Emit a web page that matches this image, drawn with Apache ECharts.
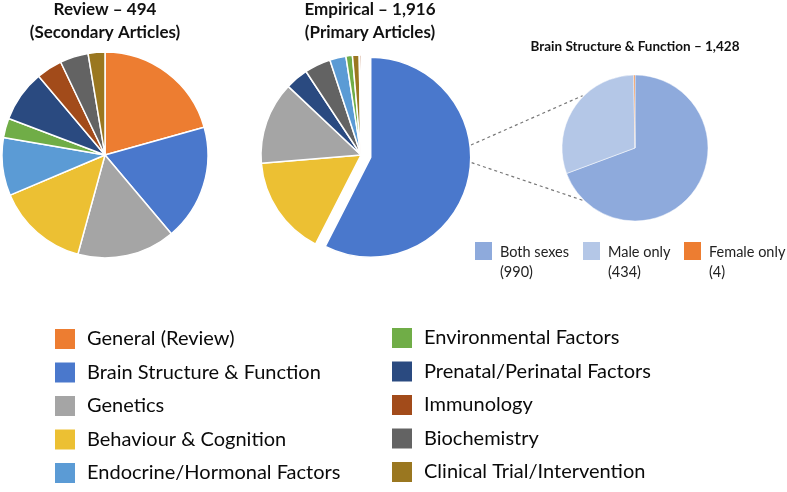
<!DOCTYPE html>
<html><head><meta charset="utf-8">
<script src="https://cdn.jsdelivr.net/npm/echarts@6/dist/echarts.min.js"></script>
<style>html,body{margin:0;padding:0;background:#fff}#c{width:787px;height:492px}</style>
</head><body><div id="c"></div>
<script>
// ---- data ----
const categories = ['General (Review)','Brain Structure & Function','Genetics','Behaviour & Cognition','Endocrine/Hormonal Factors','Environmental Factors','Prenatal/Perinatal Factors','Immunology','Biochemistry','Clinical Trial/Intervention'];
const categoryColors = ['#ed7d31','#4a78cc','#a5a5a5','#ecc033','#5b9bd5','#70ad47','#2a4a80','#a24b1a','#636363','#9a7720'];
const reviewCategories = ['General (Review)','Brain Structure & Function','Genetics','Behaviour & Cognition','Endocrine/Hormonal Factors','Environmental Factors','Prenatal/Perinatal Factors','Immunology','Biochemistry','Clinical Trial/Intervention'];
const reviewValues = [102,90,76,71,45,15,40,20,22,13];
const empiricalCategories = ['Brain Structure & Function','Behaviour & Cognition','Genetics','Prenatal/Perinatal Factors','Biochemistry','Endocrine/Hormonal Factors','Environmental Factors','Clinical Trial/Intervention','Immunology'];
const empiricalValues = [1428,402,331,92,105,65,26,27,7];
const brainSubCategories = ['Both sexes','Male only','Female only'];
const brainSubValues = [990,434,4];
const brainSubColors = ['#8eaadc','#b4c7e7','#ed7d31'];
const titles = [['Review – 494','(Secondary Articles)'],['Empirical – 1,916','(Primary Articles)']];
const brainTitle = 'Brain Structure & Function – 1,428';

// ---- layout ----
const FONT = 'Lato, "Open Sans", sans-serif';
const colorOf = n => categoryColors[categories.indexOf(n)];
const revC = [105,155], revR = 103;
const empC = [361,155], empR = 100, explode = 10;
const subC = [635,148], subR = 73;

const chart = echarts.init(document.getElementById('c'), null, {renderer:'canvas'});

const pieBase = {
  type:'pie', startAngle:90, clockwise:true, silent:true, animation:false,
  label:{show:false}, labelLine:{show:false}, emphasis:{disabled:true},
  itemStyle:{borderColor:'#fff', borderWidth:1.5}
};

const brainFrac = empiricalValues[0] / empiricalValues.reduce((a,b)=>a+b,0);
const midA = brainFrac * Math.PI;
const exC = [empC[0] + explode*Math.sin(midA), empC[1] - explode*Math.cos(midA)];
function pt(c, r, degFromRight){ const a = degFromRight*Math.PI/180; return [c[0]+r*Math.cos(a), c[1]+r*Math.sin(a)]; }

const graphics = [];
titles.forEach((t,i)=>{
  const cx = i===0 ? revC[0] : 370;
  t.forEach((line,j)=>{
    graphics.push({type:'text', x:cx, y:10+j*23, style:{text:line, font:'bold 17px '+FONT, fill:'#111', align:'center', verticalAlign:'middle'}});
  });
});
graphics.push({type:'text', x:subC[0], y:47, style:{text:brainTitle, font:'bold 13.5px '+FONT, fill:'#111', align:'center', verticalAlign:'middle'}});
[[-7,-135],[3,135]].forEach(([a1,a2])=>{
  const p1 = pt(exC, empR+1, a1), p2 = pt(subC, subR+1, a2);
  graphics.push({type:'line', shape:{x1:p1[0],y1:p1[1],x2:p2[0],y2:p2[1]}, style:{stroke:'#777', lineWidth:1.2, lineDash:[3,3]}});
});
const subLegX = [475,583,684];
brainSubCategories.forEach((n,i)=>{
  graphics.push({type:'rect', shape:{x:subLegX[i], y:242, width:17, height:18}, style:{fill:brainSubColors[i]}});
  graphics.push({type:'text', x:subLegX[i]+25, y:243, style:{text:n+'\n('+brainSubValues[i]+')', font:'14.5px '+FONT, fill:'#222', lineHeight:19.5, align:'left', verticalAlign:'top'}});
});

const legendCommon = {orient:'vertical', icon:'rect', itemWidth:22, itemHeight:22, itemGap:9.5, selectedMode:false,
  padding:0, height:170, width:380,
  textStyle:{fontFamily:FONT, fontSize:20, lineHeight:22, color:'#0a0a0a', padding:[0,0,0,6]}};

chart.setOption({
  backgroundColor:'#fff',
  graphic: graphics,
  legend:[
    Object.assign({left:53, top:327, data:categories.slice(0,5)}, legendCommon),
    Object.assign({left:390, top:326, data:categories.slice(5)}, legendCommon)
  ],
  series:[
    Object.assign({}, pieBase, {name:'Review', center:revC, radius:[0,revR],
      data: reviewCategories.map((n,i)=>({name:n, value:reviewValues[i], itemStyle:{color:colorOf(n)}}))}),
    Object.assign({}, pieBase, {name:'Empirical', center:empC, radius:[0,empR], selectedMode:'single', selectedOffset:explode,
      data: empiricalCategories.map((n,i)=>({name:n, value:empiricalValues[i], selected:i===0, itemStyle:{color:colorOf(n)}}))}),
    Object.assign({}, pieBase, {name:'Brain', center:subC, radius:[0,subR], itemStyle:{borderColor:'#fff', borderWidth:0.5},
      data: brainSubCategories.map((n,i)=>({name:n, value:brainSubValues[i], itemStyle:{color:brainSubColors[i]}}))})
  ]
});
</script></body></html>
